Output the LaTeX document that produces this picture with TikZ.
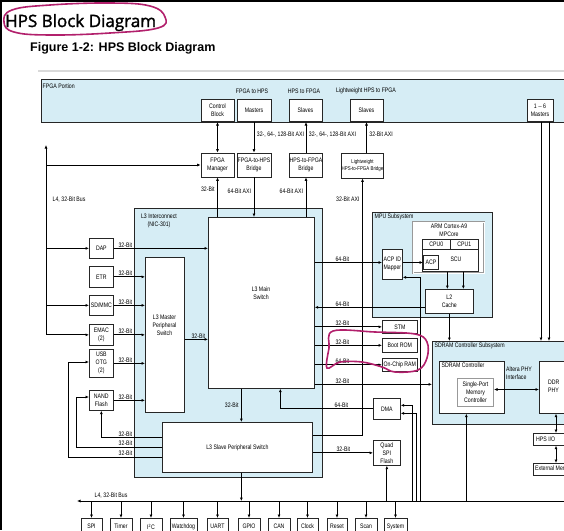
\documentclass[tikz,border=0pt]{standalone}
\usepackage{fontspec}
\usetikzlibrary{arrows.meta}
\setmainfont{Liberation Sans}
\newfontfamily\hpsfont[FakeStretch=0.8]{Liberation Sans}
\newfontfamily\headfont[FakeBold=1.6]{Open Sans}
\definecolor{hpsblue}{RGB}{214,237,245}
\definecolor{inkpen}{RGB}{178,32,108}
\tikzset{
  region/.style={draw=black!85, fill=hpsblue, line width=0.8pt, inner sep=0pt},
  blk/.style={draw=black!85, fill=white, line width=0.7pt, inner sep=0pt, align=center,
    font=\hpsfont\fontsize{6.5}{8}\selectfont},
  gblk/.style={blk, draw=black!40, line width=1pt},
  boxtxt/.style={inner sep=0pt, align=center, font=\hpsfont\fontsize{6.5}{8}\selectfont},
  lbl/.style={inner sep=0.5pt, font=\hpsfont\fontsize{6.5}{7.5}\selectfont},
  bitl/.style={lbl, pos=0, anchor=south west, xshift=#1},
  bitl/.default=4pt,
  wire/.style={line width=0.8pt},
  ink/.style={draw=inkpen, line width=1.6pt, line cap=round},
  >={Latex[length=3.5pt,width=3pt]}
}

\begin{document}
\begin{tikzpicture}[x=1pt,y=-1pt]

  \useasboundingbox (0,0) rectangle (564,530);
  \fill[white] (0,0) rectangle (564,530);
  \fill[black] (0,0) rectangle (564,2);
  \fill[black] (0,0) rectangle (2,530);
  \draw[black!15, line width=1.5pt] (38,71) -- (564,71);

  % headings
  \node[anchor=base west, inner sep=0pt, font=\headfont\fontsize{17}{20}\selectfont] (title) at (5,27) {HPS Block Diagram};
  \node[anchor=base west, inner sep=0pt, font=\bfseries\fontsize{12.5}{14}\selectfont] (caption) at (30,51) {Figure 1-2: HPS Block Diagram};

  % FPGA portion
  \node[region, minimum width=530, minimum height=43, anchor=north west] (fpga) at (41,79) {};
  \node[lbl, anchor=north west] (fpgalbl) at (42,83) {FPGA Portion};
  \node[lbl] (f2hlbl) at (252,91) {FPGA to HPS};
  \node[lbl] (h2flbl) at (304,91) {HPS to FPGA};
  \node[lbl] (lwlbl) at (366,91) {Lightweight HPS to FPGA};

  \node[blk, minimum width=33, minimum height=22, anchor=south] (ctrl) at (217.5,122) {Control\\Block};
  \node[blk, minimum width=34, minimum height=22, anchor=south] (masters) at (254,122) {Masters};
  \node[blk, minimum width=33, minimum height=22, anchor=south] (slvA) at (305.5,122) {Slaves};
  \node[blk, minimum width=33, minimum height=22, anchor=south] (slvB) at (366.5,122) {Slaves};
  \node[blk, minimum width=26, minimum height=22, anchor=south] (mast16) at (540,122) {1 -- 6\\Masters};

  % bridges
  \node[blk, minimum width=33, minimum height=24] (fpgamgr) at (217.5,165) {FPGA\\Manager};
  \node[blk, minimum width=34, minimum height=24] (f2h) at (254,165) {FPGA-to-HPS\\Bridge};
  \node[blk, minimum width=32, minimum height=24] (h2f) at (306,165) {HPS-to-FPGA\\Bridge};
  \node[blk, minimum width=39, minimum height=25, font=\hpsfont\fontsize{5.5}{7.5}\selectfont] (lwh2f) at (362.5,165.5) {Lightweight\\HPS-to-FPGA Bridge};

  % L3 interconnect
  \node[region, minimum width=188, minimum height=269, anchor=north west] (l3) at (134,208) {};
  \node[boxtxt] (l3lbl) at (159,220.5) {L3 Interconnect\\(NIC-301)};
  \node[blk, minimum width=106, minimum height=171, anchor=north west] (mainsw) at (208,217) {};
  \node[boxtxt] (mainlbl) at (261,293) {L3 Main\\Switch};
  \node[blk, minimum width=39, minimum height=155, anchor=north west] (msw) at (145,257) {};
  \node[boxtxt] (mswlbl) at (164.5,325) {L3 Master\\Peripheral\\Switch};
  \node[blk, minimum width=150, minimum height=50, anchor=north west] (slvsw) at (162,422) {L3 Slave Peripheral Switch};

  % masters on the left
  \node[blk, minimum width=24, minimum height=20, anchor=north west] (dap) at (89,238) {DAP};
  \node[blk, minimum width=24, minimum height=21, anchor=north west] (etr) at (89,266) {ETR};
  \node[blk, minimum width=24, minimum height=20, anchor=north west] (sdmmc) at (89,295) {SD/MMC};
  \node[blk, minimum width=24, minimum height=21, anchor=north west] (emac) at (89,324) {EMAC\\(2)};
  \node[blk, minimum width=24, minimum height=28, anchor=north west] (usb) at (89,349) {USB\\OTG\\(2)};
  \node[blk, minimum width=24, minimum height=20, anchor=north west] (nand) at (89,390) {NAND\\Flash};

  % MPU
  \node[region, minimum width=120, minimum height=105, anchor=north west] (mpu) at (372,212) {};
  \node[lbl, anchor=north west] (mpulbl) at (374,213.5) {MPU Subsystem};
  \node[blk, draw=black!40, double=white, double distance=0.7pt, minimum width=71, minimum height=51, anchor=north west] (arm) at (413,222) {};
  \node[boxtxt] (armlbl) at (449,230.5) {ARM Cortex-A9\\MPCore};
  \node[blk, minimum width=28, minimum height=10, anchor=north west] (cpu0) at (422,239) {CPU0};
  \node[blk, minimum width=28, minimum height=10, anchor=north west] (cpu1) at (450,239) {CPU1};
  \node[blk, minimum width=56, minimum height=22, anchor=north west] (scu) at (422,249) {};
  \node[boxtxt] (sculbl) at (456,259) {SCU};
  \node[blk, line width=1pt, minimum width=15, minimum height=14, anchor=north west] (acp) at (423,255) {ACP};
  \node[blk, minimum width=20, minimum height=30, anchor=north west] (mapper) at (382,249) {ACP ID\\Mapper};
  \node[blk, minimum width=48, minimum height=24, anchor=north west] (l2) at (425,289) {L2\\Cache};

  % slaves of the main switch
  \node[blk, minimum width=35, minimum height=13, anchor=north west] (stm) at (382,320) {STM};
  \node[blk, minimum width=35, minimum height=14, anchor=north west] (bootrom) at (382,338) {Boot ROM};
  \node[blk, minimum width=35, minimum height=13, anchor=north west] (ocram) at (382,358) {On-Chip RAM};
  \node[blk, minimum width=27, minimum height=21, anchor=north west] (dma) at (373,398) {DMA};
  \node[blk, minimum width=27, minimum height=25, anchor=north west] (qspi) at (373,440) {Quad\\SPI\\Flash};

  % SDRAM
  \node[region, minimum width=140, minimum height=83, anchor=north west] (sdram) at (432,341) {};
  \node[lbl, anchor=north west] (sdramlbl) at (434,342.5) {SDRAM Controller Subsystem};
  \node[blk, minimum width=65, minimum height=52, anchor=north west] (sdrctl) at (439,361) {};
  \node[lbl, anchor=north west] (sdrctllbl) at (441,362.5) {SDRAM Controller};
  \node[gblk, minimum width=36, minimum height=28, anchor=north west] (single) at (457,378) {Single-Port\\Memory\\Controller};
  \node[boxtxt, anchor=north west, align=left] (phylbl) at (506,367) {Altera PHY\\Interface};
  \node[blk, minimum width=45, minimum height=52, anchor=north west] (ddrphy) at (539,361) {};
  \node[boxtxt, anchor=west, align=left] (ddrlbl) at (548,386) {DDR\\PHY};
  \node[blk, minimum width=50, minimum height=12, anchor=north west] (hpsio) at (533,433) {};
  \node[boxtxt, anchor=west] (hpsiolbl) at (536,439) {HPS I/O};
  \node[blk, minimum width=60, minimum height=12, anchor=north west] (extmem) at (533,463) {};
  \node[boxtxt, anchor=west] (extlbl) at (535,469) {External Memory};

  % buses
  \coordinate (bustop) at (46,145);
  \coordinate (busend) at (46,334.5);
  \coordinate (l4w) at (77,501);
  \coordinate (l4e) at (570,501);
  \coordinate (phyx) at (556,0);
  \draw[wire,->] (busend) -- (bustop);
  \node[lbl, anchor=west] (l4vlbl) at (52,200) {L4, 32-Bit Bus};
  \draw[wire,->] (l4e) -- (l4w);
  \node[lbl, anchor=south west] (l4hlbl) at (94,499) {L4, 32-Bit Bus};

  % FPGA portion links
  \draw[wire,<->] (ctrl.south) -- (fpgamgr.north);
  \draw[wire,->] (masters.south) -- (f2h.north) node[lbl, pos=0.4, right=2pt] {32-, 64-, 128-Bit AXI};
  \draw[wire,->] (h2f.north) -- (h2f.north |- slvA.south) node[lbl, pos=0.6, right=2pt] {32-, 64-, 128-Bit AXI};
  \draw[wire,->] (slvB.south |- lwh2f.north) -- (slvB.south) node[lbl, pos=0.6, right=2pt] {32-Bit AXI};
  \draw[wire,->] (bustop |- fpgamgr.west) -- (fpgamgr.west);
  \draw[wire,->] (fpgamgr.south |- mainsw.north) -- (fpgamgr.south) node[lbl, pos=0.7, left=2pt] {32-Bit};
  \draw[wire,->] (f2h.south) -- (f2h.south |- mainsw.north) node[lbl, pos=0.35, left=2pt] {64-Bit AXI};
  \draw[wire,->] (h2f.south |- mainsw.north) -- (h2f.south) node[lbl, pos=0.65, left=2pt] {64-Bit AXI};
  \draw[wire,->] ([yshift=12pt]slvsw.east) -| (lwh2f.south) node[lbl, pos=0.96, left=2pt] {32-Bit AXI};

  % left masters
  \draw[wire,->] (bustop |- dap.west) -- (dap.west);
  \draw[wire,->] (bustop |- sdmmc.west) -- (sdmmc.west);
  \draw[wire,->] (bustop |- emac.west) -- (emac.west);
  \draw[wire,->] (dap.east) -- (dap.east -| mainsw.west) node[bitl] {32-Bit};
  \draw[wire,->] (etr.east) -- (etr.east -| msw.west) node[bitl] {32-Bit};
  \draw[wire,->] (sdmmc.east) -- (sdmmc.east -| msw.west) node[bitl] {32-Bit};
  \draw[wire,->] (emac.east) -- (emac.east -| msw.west) node[bitl] {32-Bit};
  \draw[wire,->] (usb.east) -- (usb.east -| msw.west) node[bitl] {32-Bit};
  \draw[wire,->] (nand.east) -- (nand.east -| msw.west) node[bitl] {32-Bit};
  \draw[wire,->] ([yshift=-4.5pt]msw.east) -- ([yshift=-4.5pt]msw.east -| mainsw.west) node[bitl=6pt] {32-Bit};
  \draw[wire,->] ([yshift=10pt]slvsw.west) -| (nand.south) node[lbl, pos=0, anchor=south east, xshift=-29pt] {32-Bit};
  \draw[wire,->] (slvsw.west) -| (76,397) -- (nand.west |- 76,397);
  \node[lbl, anchor=south east] (nandlbl) at (133,446) {32-Bit};
  \draw[wire,->] ([yshift=-10pt]slvsw.west) -| (68,362) -- (usb.west |- 68,362);
  \node[lbl, anchor=south east] (usblbl) at (133,456) {32-Bit};

  % main switch to slaves
  \draw[wire,->] ([xshift=4pt]slvsw.north |- mainsw.south) -- ([xshift=4pt]slvsw.north) node[lbl, midway, left=2pt] {32-Bit};
  \draw[wire,->] ([xshift=4pt]slvsw.south) -- ([xshift=4pt]slvsw.south |- l4w);
  \draw[wire,->] (mainsw.east |- acp.west) -- (mapper.west |- acp.west) node[bitl=20pt] {64-Bit};
  \draw[wire,->] ([yshift=-6pt]l2.west) -- ([yshift=-6pt]l2.west -| mainsw.east) node[lbl, pos=1, anchor=south west, xshift=20pt] {64-Bit};
  \draw[wire,->] (mainsw.east |- stm.west) -- (stm.west) node[bitl=20pt] {32-Bit};
  \draw[wire,->] (mainsw.east |- bootrom.west) -- (bootrom.west) node[bitl=20pt] {32-Bit};
  \draw[wire,->] (mainsw.east |- ocram.west) -- (ocram.west) node[bitl=20pt] {64-Bit};
  \draw[wire,->] ([yshift=-81.5pt]mainsw.east) -- ([yshift=-81.5pt]mainsw.east -| sdram.west) node[bitl=20pt] {32-Bit};
  \draw[wire,->] (dma.west) -| ([xshift=19pt]mainsw.south) node[lbl, pos=0, anchor=south east, xshift=-24pt] {64-Bit};
  \draw[wire,->] (slvsw.east |- qspi.west) -- (qspi.west) node[bitl=23pt] {32-Bit};
  \draw[wire,->] (qspi.south |- l4w) -- (qspi.south);
  \draw[wire,->] ([xshift=12pt]dma.east |- l4w) |- ([yshift=3.5pt]dma.east);
  \draw[wire,->] ([xshift=16pt]dma.east |- l4w) |- ([yshift=-4.5pt]dma.east);
  \draw[wire,->] ([xshift=20pt]dma.east |- l4w) |- ([yshift=-13pt]mapper.east);

  % MPU links
  \draw[wire,->] (mapper.east |- acp.west) -- (acp.west);
  \draw[wire,->] ([xshift=-3pt]scu.south) -- ([xshift=-3pt]scu.south |- l2.north);
  \draw[wire,->] ([xshift=13pt]scu.south) -- ([xshift=13pt]scu.south |- l2.north);
  \draw[wire,->] (l2.south) -- (l2.south |- sdram.north);
  \draw[wire,->] ([xshift=1pt]mast16.south) -- ([xshift=1pt]mast16.south |- sdram.north);
  \draw[wire,->] ([xshift=9pt]mast16.south) -- ([xshift=9pt]mast16.south |- sdram.north);

  % SDRAM links
  \draw[wire,<->] ([yshift=3pt]single.east) -- ([yshift=3pt]single.east -| ddrphy.west);
  \draw[wire,->] ([xshift=-5.5pt]sdrctl.south |- l4w) -- ([xshift=-5.5pt]sdrctl.south);
  \draw[wire,<->] (phyx |- ddrphy.south) -- (phyx |- hpsio.north);
  \draw[wire,<->] (phyx |- hpsio.south) -- (phyx |- extmem.north);

  % L4 peripherals
  \foreach \xa/\xb/\txt [count=\i] in {81/102/{SPI\\(2)}, 110/132/{Timer\\(4)}, 140/162/{I\textsuperscript{2}C\\(4)},
      170/197/{Watchdog\\Timer (2)}, 207/228/{UART\\(2)}, 238/260/{GPIO\\(3)}, 268/290/{CAN\\(2)},
      297/318/{Clock\\Manager}, 327/347/{Reset\\Manager}, 355/377/{Scan\\Manager}, 384/407/{System\\Manager}} {
    \node[blk, minimum width={\xb-\xa}, minimum height=30, anchor=north] (per\i) at ({(\xa+\xb)/2},518) {};
    \node[boxtxt, anchor=north] (pertxt\i) at ([yshift=-6pt]per\i.north) {\txt};
    \draw[wire,->] (per\i.north |- l4w) -- (per\i.north);
  }

  % pen marks
  \draw[ink] plot[smooth cycle, tension=0.7] coordinates {(4,22) (12,10) (50,5) (110,3) (150,6) (165,17) (158,28) (110,33) (50,35) (14,32)};
  \draw[ink] plot[smooth cycle, tension=0.6] coordinates {(333,331) (375,332) (415,334) (427,342) (427,358) (418,370) (395,372) (382,367) (362,362) (340,362) (327,368) (329,348)};

\end{tikzpicture}
\end{document}
